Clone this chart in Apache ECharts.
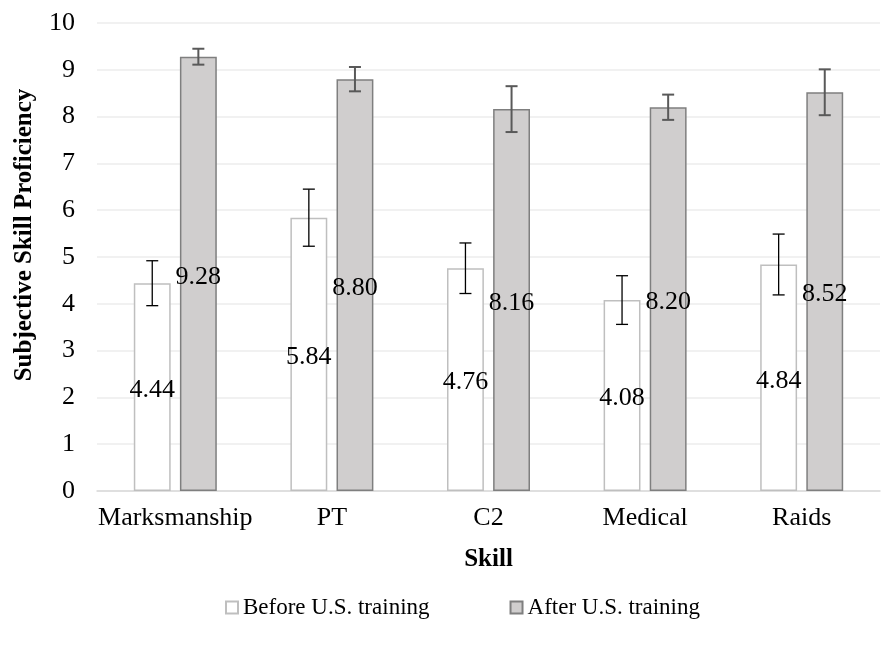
<!DOCTYPE html>
<html>
<head>
<meta charset="utf-8">
<script src="https://cdn.jsdelivr.net/npm/echarts@6/dist/echarts.min.js"></script>
<style>
html, body { margin: 0; padding: 0; background: #fff; }
#chart { width: 891px; height: 645px; }
</style>
</head>
<body>
<div id="chart"></div>
<script>
// data
var skills = ['Marksmanship', 'PT', 'C2', 'Medical', 'Raids'];
var beforeVals = [4.44, 5.84, 4.76, 4.08, 4.84];
var afterVals = [9.28, 8.80, 8.16, 8.20, 8.52];
// error bar half widths (estimated)
var beforeErr = [0.48, 0.61, 0.54, 0.52, 0.65];
var afterErr = [0.17, 0.26, 0.49, 0.27, 0.49];
var yTicks = [0, 10, 1];   // min, max, step

var font = "'Liberation Serif', 'Times New Roman', serif";
var catGap = 0.47, barGap = 0.25;

var chart = echarts.init(document.getElementById('chart'));

// draws the whisker for one series, side = -1 left bar, 1 right bar
function errorBar(vals, errs, side, color, lw) {
    return {
        type: 'custom',
        silent: true,
        z: 10,
        data: vals.map(function (v, i) { return [i, v - errs[i], v + errs[i]]; }),
        renderItem: function (params, api) {
            var idx = api.value(0);
            var lo = api.coord([idx, api.value(1)]);
            var hi = api.coord([idx, api.value(2)]);
            var catW = api.size([1, 0])[0];
            var bw = catW * (1 - catGap) / (2 + barGap);
            var x = lo[0] + side * bw * (1 + barGap) / 2;
            var cap = 6;
            var st = { stroke: color, lineWidth: lw };
            return {
                type: 'group',
                children: [
                    { type: 'line', shape: { x1: x, y1: lo[1], x2: x, y2: hi[1] }, style: st },
                    { type: 'line', shape: { x1: x - cap, y1: lo[1], x2: x + cap, y2: lo[1] }, style: st },
                    { type: 'line', shape: { x1: x - cap, y1: hi[1], x2: x + cap, y2: hi[1] }, style: st }
                ]
            };
        }
    };
}

var labelOpt = {
    show: true,
    position: 'inside',
    offset: [0, 3],
    color: '#000',
    fontFamily: font,
    fontSize: 26,
    formatter: function (p) { return p.value.toFixed(2); }
};

chart.setOption({
    animation: false,
    textStyle: { fontFamily: font },
    grid: { left: 97, right: 11, top: 23, bottom: 154 },
    legend: {
        left: 220,
        top: 591,
        icon: 'rect',
        itemWidth: 12,
        itemHeight: 12,
        itemGap: 80,
        textStyle: { fontFamily: font, fontSize: 23, color: '#000' },
        data: ['Before U.S. training', 'After U.S. training']
    },
    xAxis: {
        type: 'category',
        data: skills,
        name: 'Skill',
        nameLocation: 'middle',
        nameGap: 56,
        nameTextStyle: { fontFamily: font, fontSize: 25, fontWeight: 'bold', color: '#000' },
        axisLine: { lineStyle: { color: '#d9d9d9', width: 1.5 } },
        axisTick: { show: false },
        axisLabel: { interval: 0, fontFamily: font, fontSize: 26, color: '#000', margin: 14 }
    },
    yAxis: {
        type: 'value',
        min: yTicks[0],
        max: yTicks[1],
        interval: yTicks[2],
        name: 'Subjective Skill Proficiency',
        nameLocation: 'middle',
        nameGap: 60,
        nameTextStyle: { fontFamily: font, fontSize: 25, fontWeight: 'bold', color: '#000', padding: [0, 0, 0, 44] },
        axisLine: { show: false },
        axisTick: { show: false },
        axisLabel: { fontFamily: font, fontSize: 26, color: '#000', margin: 22 },
        splitLine: { lineStyle: { color: '#ececec', width: 1.5 } }
    },
    series: [
        {
            name: 'Before U.S. training',
            type: 'bar',
            data: beforeVals,
            barCategoryGap: (catGap * 100) + '%',
            barGap: (barGap * 100) + '%',
            itemStyle: { color: '#ffffff', borderColor: '#bfbfbf', borderWidth: 1.5 },
            label: labelOpt
        },
        {
            name: 'After U.S. training',
            type: 'bar',
            data: afterVals,
            barCategoryGap: (catGap * 100) + '%',
            barGap: (barGap * 100) + '%',
            itemStyle: { color: '#d0cece', borderColor: '#7f7f7f', borderWidth: 1.5 },
            label: labelOpt
        },
        errorBar(beforeVals, beforeErr, -1, '#000000', 1.3),
        errorBar(afterVals, afterErr, 1, '#595959', 2)
    ]
});
</script>
</body>
</html>
